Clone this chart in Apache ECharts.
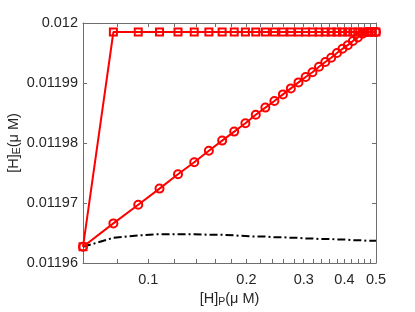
<!DOCTYPE html>
<html>
<head>
<meta charset="utf-8">
<script src="https://cdn.jsdelivr.net/npm/echarts@6/dist/echarts.min.js"></script>
<style>html,body{margin:0;padding:0;background:#fff;}#c{width:415px;height:312px;}</style>
</head>
<body>
<div id="c"></div>
<script>
const xValues = [0.0630, 0.0781, 0.0931, 0.1082, 0.1233, 0.1383, 0.1534, 0.1685, 0.1835, 0.1986,
  0.2137, 0.2287, 0.2438, 0.2589, 0.2739, 0.2890, 0.3041, 0.3191, 0.3342, 0.3493,
  0.3643, 0.3794, 0.3945, 0.4095, 0.4246, 0.4397, 0.4547, 0.4698, 0.4849, 0.5];
const squareValues = [0.0119627, 0.0119985, 0.0119985, 0.0119985, 0.0119985, 0.0119985, 0.0119985, 0.0119985, 0.0119985, 0.0119985,
  0.0119985, 0.0119985, 0.0119985, 0.0119985, 0.0119985, 0.0119985, 0.0119985, 0.0119985, 0.0119985, 0.0119985,
  0.0119985, 0.0119985, 0.0119985, 0.0119985, 0.0119985, 0.0119985, 0.0119985, 0.0119985, 0.0119985, 0.0119985];
const circleValues = [0.0119627, 0.0119666, 0.0119697, 0.0119724, 0.0119748, 0.0119768, 0.0119787, 0.0119804, 0.0119819, 0.0119833,
  0.0119847, 0.0119859, 0.0119870, 0.0119881, 0.0119891, 0.0119901, 0.0119910, 0.0119918, 0.0119927, 0.0119935,
  0.0119942, 0.0119950, 0.0119957, 0.0119963, 0.0119970, 0.0119976, 0.0119982, 0.0119985, 0.0119985, 0.0119985];
const dashValues = [0.0119627, 0.0119642, 0.0119646, 0.0119648, 0.0119648, 0.0119648, 0.0119647, 0.0119647, 0.0119646, 0.0119645,
  0.0119644, 0.0119644, 0.0119643, 0.0119643, 0.0119642, 0.0119642, 0.0119641, 0.0119641, 0.0119640, 0.0119640,
  0.0119640, 0.0119639, 0.0119639, 0.0119639, 0.0119638, 0.0119638, 0.0119638, 0.0119637, 0.0119637, 0.0119637];
const xTickValues = [0.08, 0.1, 0.12, 0.14, 0.16, 0.18, 0.2, 0.22, 0.24, 0.26, 0.28, 0.3, 0.32, 0.34, 0.36, 0.38, 0.4, 0.42, 0.44, 0.46, 0.48, 0.5];
const xLabelValues = [0.1, 0.2, 0.3, 0.4, 0.5];
const yMin = 0.01196, yMax = 0.012, yStep = 0.00001;

const pairs = ys => xValues.map((x, i) => [x, ys[i]]);
const FONT = 'Liberation Sans';
const textColor = '#262626';
const axisGray = '#6e6e6e';

const chart = echarts.init(document.getElementById('c'), null, {renderer: 'canvas'});
const xCommon = {
  type: 'log', logBase: 10, min: 0.063, max: 0.5,
  axisLine: {show: true, onZero: false, lineStyle: {color: axisGray, width: 1}},
  axisTick: {show: true, inside: true, length: 4, customValues: xTickValues, lineStyle: {color: axisGray, width: 1}},
  splitLine: {show: false}, minorTick: {show: false}
};
const yCommon = {
  type: 'value', min: yMin, max: yMax, interval: yStep,
  axisLine: {show: true, onZero: false, lineStyle: {color: axisGray, width: 1}},
  axisTick: {show: true, inside: true, length: 4, lineStyle: {color: axisGray, width: 1}},
  splitLine: {show: false}
};
const nameRich = {
  m: {fontFamily: FONT, fontSize: 14.5, color: textColor},
  s: {fontFamily: FONT, fontSize: 10.5, color: textColor, verticalAlign: 'bottom', padding: [7, 0, 0, 0]}
};
chart.setOption({
  animation: false,
  backgroundColor: '#fff',
  grid: {left: 83, right: 39, top: 23, bottom: 49, containLabel: false, outerBoundsMode: 'none'},
  xAxis: [
    Object.assign({}, xCommon, {
      position: 'bottom',
      name: '{m|[H]}{s|P}{m|(μ M)}', nameLocation: 'middle', nameGap: 27, nameMoveOverlap: false,
      nameTextStyle: {rich: nameRich},
      axisLabel: {show: true, customValues: xLabelValues, margin: 9, fontFamily: FONT, fontSize: 14.5, color: textColor,
        formatter: v => String(+(+v).toFixed(2))}
    }),
    Object.assign({}, xCommon, {position: 'top', axisLabel: {show: false}})
  ],
  yAxis: [
    Object.assign({}, yCommon, {
      position: 'left',
      name: '{m|[H]}{s|E}{m|(μ M)}', nameLocation: 'middle', nameGap: 60, nameRotate: 90, nameMoveOverlap: false,
      nameTextStyle: {rich: nameRich},
      axisLabel: {show: true, margin: 5, fontFamily: FONT, fontSize: 14.5, color: textColor,
        formatter: v => String(+(+v).toFixed(5))}
    }),
    Object.assign({}, yCommon, {position: 'right', axisLabel: {show: false}})
  ],
  series: [
    {
      type: 'line', data: pairs(dashValues), showSymbol: false, symbol: 'none',
      lineStyle: {color: '#000', width: 2, type: [8, 3, 2, 3]}, z: 2
    },
    {
      type: 'line', data: pairs(circleValues), symbol: 'circle', symbolSize: 8,
      lineStyle: {color: '#ff0000', width: 2},
      itemStyle: {color: 'rgba(255,255,255,0)', borderColor: '#ff0000', borderWidth: 2}, z: 3
    },
    {
      type: 'line', data: pairs(squareValues), symbol: 'rect', symbolSize: 7,
      lineStyle: {color: '#ff0000', width: 2},
      itemStyle: {color: 'rgba(255,255,255,0)', borderColor: '#ff0000', borderWidth: 2}, z: 4
    }
  ]
});
</script>
</body>
</html>
